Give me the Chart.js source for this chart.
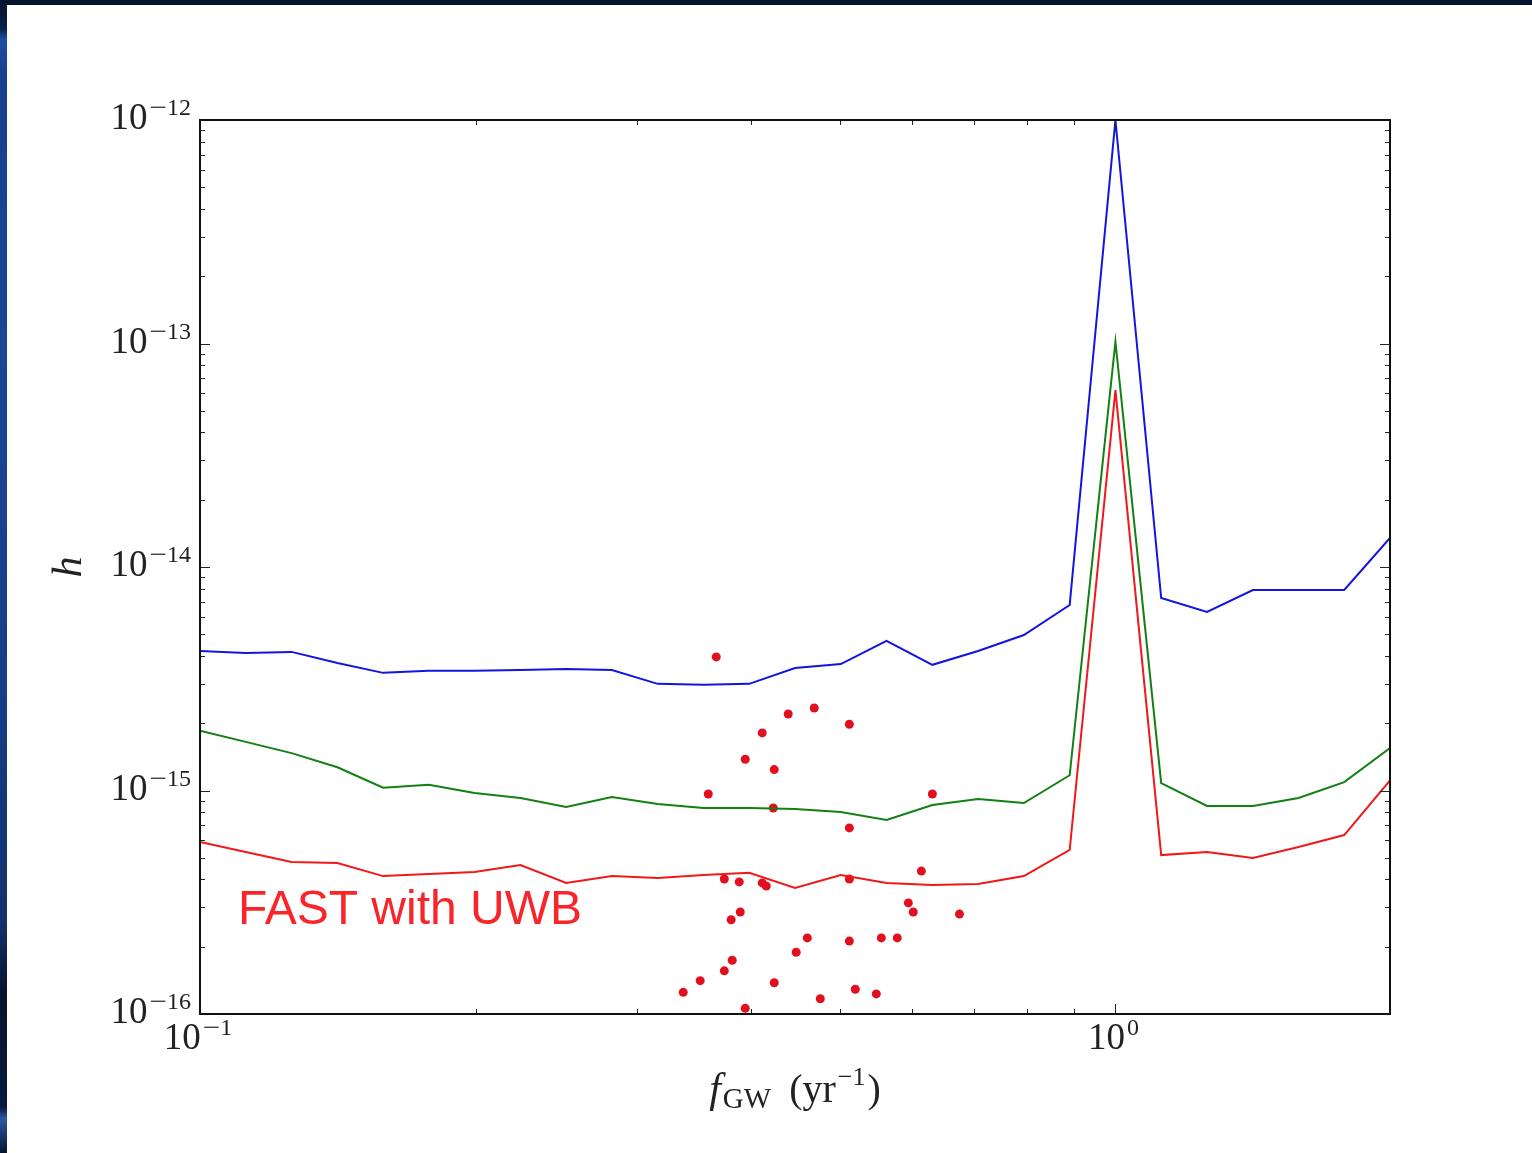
<!DOCTYPE html>
<html>
<head>
<meta charset="utf-8">
<script src="https://cdn.jsdelivr.net/npm/chart.js@4.4.1/dist/chart.umd.min.js"></script>
<style>
  html, body { margin: 0; padding: 0; }
  body { width: 1532px; height: 1153px; background: #05132e; overflow: hidden; position: relative; }
  #strip {
    position: absolute; left: 0; top: 5px; width: 7px; height: 1148px;
    background: linear-gradient(to bottom, #07152f 0%, #0b1f48 2%, #1e4ea2 3%, #16408e 6%, #1a4696 30%, #163d86 60%, #12306c 80%, #07142e 86%, #0a1a3c 96%, #2a58a8 97%, #07142e 100%);
  }
  #wrap { position: absolute; left: 7px; top: 5px; width: 1525px; height: 1148px; background: #fff; }
</style>
</head>
<body>
<div id="strip"></div>
<div id="wrap"><canvas id="grafico" width="1525" height="1148"></canvas></div>
<script>
// frequencias (yr^-1)
const freq = [0.1, 0.1122, 0.1259, 0.1413, 0.1585, 0.1778, 0.1995, 0.2239, 0.2512, 0.2818,
  0.3162, 0.3548, 0.3981, 0.4467, 0.5012, 0.5623, 0.6310, 0.7079, 0.7943, 0.8913,
  1.0, 1.122, 1.259, 1.413, 1.585, 1.778, 1.995];

const curvaAzul = [4.21e-15, 4.12e-15, 4.17e-15, 3.72e-15, 3.36e-15, 3.43e-15, 3.43e-15, 3.46e-15, 3.50e-15, 3.46e-15,
  3.00e-15, 2.97e-15, 3.00e-15, 3.53e-15, 3.68e-15, 4.67e-15, 3.65e-15, 4.21e-15, 4.96e-15, 6.76e-15,
  1.0e-12, 7.26e-15, 6.29e-15, 7.89e-15, 7.89e-15, 7.89e-15, 1.35e-14];

const curvaVerde = [1.85e-15, 1.65e-15, 1.47e-15, 1.27e-15, 1.03e-15, 1.06e-15, 9.75e-16, 9.25e-16, 8.44e-16, 9.35e-16,
  8.70e-16, 8.35e-16, 8.35e-16, 8.26e-16, 8.01e-16, 7.38e-16, 8.61e-16, 9.16e-16, 8.79e-16, 1.17e-15,
  1.02e-13, 1.08e-15, 8.53e-16, 8.53e-16, 9.25e-16, 1.09e-15, 1.55e-15];

const curvaVermelha = [5.89e-16, 5.31e-16, 4.79e-16, 4.74e-16, 4.14e-16, 4.23e-16, 4.32e-16, 4.64e-16, 3.86e-16, 4.14e-16,
  4.06e-16, 4.19e-16, 4.28e-16, 3.66e-16, 4.19e-16, 3.86e-16, 3.78e-16, 3.82e-16, 4.14e-16, 5.42e-16,
  6.19e-14, 5.14e-16, 5.31e-16, 4.99e-16, 5.59e-16, 6.32e-16, 1.11e-15];

// pontos (pulsares)
const pontosF = [0.3664, 0.4391, 0.4688, 0.5121, 0.4113, 0.3941, 0.4239, 0.3591, 0.6310, 0.4229,
  0.5121, 0.6138, 0.3739, 0.3882, 0.4113, 0.4155, 0.5121, 0.3892, 0.3804, 0.5940,
  0.6014, 0.6755, 0.4607, 0.5121, 0.5550, 0.5777, 0.4480, 0.3814, 0.3739, 0.3519,
  0.3372, 0.4239, 0.4760, 0.5198, 0.5480, 0.3941];
const pontosH = [3.96e-15, 2.20e-15, 2.34e-15, 1.98e-15, 1.81e-15, 1.38e-15, 1.24e-15, 9.65e-16, 9.65e-16, 8.35e-16,
  6.80e-16, 4.36e-16, 4.02e-16, 3.90e-16, 3.86e-16, 3.74e-16, 4.02e-16, 2.86e-16, 2.64e-16, 3.14e-16,
  2.86e-16, 2.80e-16, 2.19e-16, 2.12e-16, 2.19e-16, 2.19e-16, 1.89e-16, 1.74e-16, 1.56e-16, 1.41e-16,
  1.25e-16, 1.38e-16, 1.17e-16, 1.29e-16, 1.23e-16, 1.06e-16];

const ticksY = [1e-16, 1e-15, 1e-14, 1e-13, 1e-12];
const expY = ["\u221216", "\u221215", "\u221214", "\u221213", "\u221212"];
const ticksX = [0.1, 1];
const expX = ["\u22121", "0"];

const serif = '"Liberation Serif", "DejaVu Serif", serif';

function juntar(xs, ys) {
  return xs.map((x, i) => ({ x: x, y: ys[i] }));
}

// desenha "10" com expoente
function potencia(ctx, x, y, exp, align) {
  ctx.font = `37px ${serif}`;
  const w1 = ctx.measureText("10").width + 2;
  ctx.font = `24px ${serif}`;
  // o sinal de menos fica mais largo, como no original
  const neg = exp[0] === "\u2212";
  const wm = neg ? ctx.measureText("\u2212").width + 4 : 0;
  const wd = ctx.measureText(neg ? exp.slice(1) : exp).width;
  const total = w1 + wm + wd;
  let x0 = x;
  if (align === "right") x0 = x - total;
  if (align === "center") x0 = x - total / 2;
  ctx.fillStyle = "#222";
  ctx.textAlign = "left";
  ctx.textBaseline = "alphabetic";
  ctx.font = `37px ${serif}`;
  ctx.fillText("10", x0, y);
  ctx.font = `24px ${serif}`;
  if (neg) {
    ctx.save();
    ctx.translate(x0 + w1, y - 14);
    ctx.scale(1.3, 1);
    ctx.fillText("\u2212", 0, 0);
    ctx.restore();
    ctx.fillText(exp.slice(1), x0 + w1 + wm, y - 14);
  } else {
    ctx.fillText(exp, x0 + w1, y - 14);
  }
}

const decoracao = {
  id: "decoracao",
  afterDatasetsDraw(chart) {
    const ctx = chart.ctx;
    const a = chart.chartArea;
    const sx = chart.scales.x;
    const sy = chart.scales.y;
    ctx.save();

    // ticks para dentro, nos quatro lados
    ctx.strokeStyle = "#222";
    ctx.lineWidth = 1;
    ctx.beginPath();
    for (let d = -16; d < -12; d++) {
      for (let m = 1; m <= 9; m++) {
        const v = m * Math.pow(10, d);
        const py = Math.round(sy.getPixelForValue(v)) + 0.5;
        const len = m === 1 ? 10 : 5;
        ctx.moveTo(a.left, py); ctx.lineTo(a.left + len, py);
        ctx.moveTo(a.right, py); ctx.lineTo(a.right - len, py);
      }
    }
    const minX = [0.2, 0.3, 0.4, 0.5, 0.6, 0.7, 0.8, 0.9, 1, 2];
    minX.forEach((v) => {
      if (v > sx.max) return;
      const px = Math.round(sx.getPixelForValue(v)) + 0.5;
      const len = v === 1 ? 10 : 5;
      ctx.moveTo(px, a.bottom); ctx.lineTo(px, a.bottom - len);
      ctx.moveTo(px, a.top); ctx.lineTo(px, a.top + len);
    });
    ctx.stroke();

    // moldura
    ctx.lineWidth = 2;
    ctx.strokeStyle = "#111";
    ctx.strokeRect(a.left, a.top, a.right - a.left, a.bottom - a.top);

    // rotulos
    ticksY.forEach((v, i) => {
      const py = sy.getPixelForValue(v);
      potencia(ctx, a.left - 9, py + 9, expY[i], "right");
    });
    ticksX.forEach((v, i) => {
      const px = sx.getPixelForValue(v);
      potencia(ctx, px - 2, a.bottom + 35, expX[i], "center");
    });

    // titulo eixo y
    ctx.fillStyle = "#222";
    ctx.save();
    ctx.translate(a.left - 130, (a.top + a.bottom) / 2);
    ctx.rotate(-Math.PI / 2);
    ctx.font = `italic 42px ${serif}`;
    ctx.textAlign = "center";
    ctx.textBaseline = "middle";
    ctx.fillText("h", 0, 0);
    ctx.restore();

    // titulo eixo x
    const partes = [
      { t: "f", f: `italic 42px ${serif}`, dy: 0, gap: 2 },
      { t: "GW", f: `29px ${serif}`, dy: 6, gap: 18 },
      { t: "(yr", f: `40px ${serif}`, dy: 0, gap: 2 },
      { t: "\u22121", f: `26px ${serif}`, dy: -17, gap: 2 },
      { t: ")", f: `40px ${serif}`, dy: 0, gap: 0 }
    ];
    let total = 0;
    partes.forEach((p) => { ctx.font = p.f; p.w = ctx.measureText(p.t).width + p.gap; total += p.w; });
    let cx = (a.left + a.right) / 2 - total / 2;
    const base = a.bottom + 88;
    ctx.textAlign = "left";
    ctx.textBaseline = "alphabetic";
    partes.forEach((p) => {
      ctx.font = p.f;
      ctx.fillText(p.t, cx, base + p.dy);
      cx += p.w;
    });

    // texto
    ctx.fillStyle = "#f8262a";
    ctx.font = '48px "Liberation Sans", Arial, sans-serif';
    ctx.fillText("FAST with UWB", a.left + 38, a.bottom - 90);

    ctx.restore();
  }
};

const grafico = document.querySelector("#grafico");
const myGrafico = new Chart(grafico, {
  type: "line",
  data: {
    datasets: [
      { data: juntar(freq, curvaAzul), borderColor: "#1414e0", borderWidth: 2, pointRadius: 0, tension: 0 },
      { data: juntar(freq, curvaVerde), borderColor: "#128012", borderWidth: 2, pointRadius: 0, tension: 0 },
      { data: juntar(freq, curvaVermelha), borderColor: "#f01818", borderWidth: 2, pointRadius: 0, tension: 0 },
      {
        type: "scatter",
        data: juntar(pontosF, pontosH),
        showLine: false,
        pointRadius: 4.5,
        pointBackgroundColor: "#e2101e",
        pointBorderWidth: 0
      }
    ]
  },
  options: {
    responsive: false,
    animation: false,
    layout: { padding: { left: 193, right: 142, top: 115, bottom: 139 } },
    plugins: { legend: { display: false }, tooltip: { enabled: false } },
    scales: {
      x: {
        type: "logarithmic", min: 0.1, max: 1.995,
        grid: { display: false, drawTicks: false }, border: { display: false },
        ticks: { display: false }
      },
      y: {
        type: "logarithmic", min: 1e-16, max: 1e-12,
        grid: { display: false, drawTicks: false }, border: { display: false },
        ticks: { display: false }
      }
    }
  },
  plugins: [decoracao]
});
</script>
</body>
</html>
